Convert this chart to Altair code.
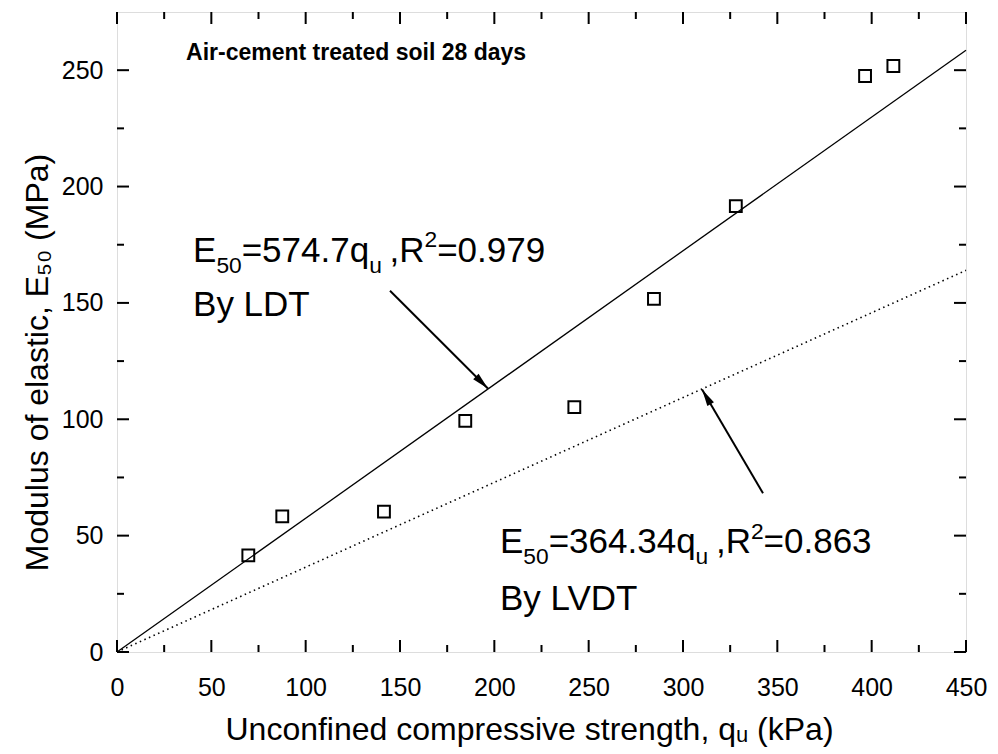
import math
import altair as alt
import pandas as pd

FONT = "Liberation Sans"

# ---- data ----
qu_kpa = [69.6, 87.6, 141.5, 184.6, 242.4, 284.6, 328.0, 396.5, 411.5]
e50_mpa = [41.5, 58.3, 60.3, 99.3, 105.2, 151.7, 191.6, 247.5, 251.8]

fit_x = [0, 450]
ldt_fit = [0, 258.6]     # E50 = 574.7 qu  (qu in MPa)
lvdt_fit = [0, 164.0]    # E50 = 364.34 qu

x_major = [0, 50, 100, 150, 200, 250, 300, 350, 400, 450]
x_minor = [25, 75, 125, 175, 225, 275, 325, 375, 425]
y_major = [0, 50, 100, 150, 200, 250]
y_minor = [25, 75, 125, 175, 225]

X_DOMAIN = [0, 450]
Y_DOMAIN = [0, 275]

# arrows: (tail x, tail y, head x, head y) in data units
arrow_ldt = [144.7, 155.2, 196.6, 113.2]
arrow_lvdt = [342.4, 68.2, 310.1, 112.8]

panel_title = "Air-cement treated soil 28 days"
x_title = "Unconfined compressive strength, q\u1d64 (kPa)"
y_title = "Modulus of elastic, E\u2085\u2080 (MPa)"

W, H = 849, 640
SX = W / (X_DOMAIN[1] - X_DOMAIN[0])
SY = H / (Y_DOMAIN[1] - Y_DOMAIN[0])

xs = alt.Scale(domain=X_DOMAIN, nice=False, zero=False)
ys = alt.Scale(domain=Y_DOMAIN, nice=False, zero=False)

xaxis = alt.Axis(values=x_major, ticks=False, domain=False, grid=False,
                 labelFontSize=25, labelPadding=23, labelFlush=False,
                 labelFont=FONT, labelColor="black",
                 title=x_title, titleFont=FONT, titleFontSize=32,
                 titleFontWeight="normal", titleColor="black",
                 titleX=412, titleY=87, titleBaseline="alphabetic", titleAlign="center")
yaxis = alt.Axis(values=y_major, ticks=False, domain=False, grid=False,
                 labelFontSize=25, labelPadding=14,
                 labelFont=FONT, labelColor="black",
                 title=y_title, titleFont=FONT, titleFontSize=32,
                 titleFontWeight="normal", titleColor="black",
                 titleX=-70, titleY=350, titleAngle=270, titleBaseline="alphabetic",
                 titleAlign="center")

pts = pd.DataFrame({"qu": qu_kpa, "e": e50_mpa})
base_pts = alt.Chart(pts).mark_point(shape="square", filled=False, size=140,
                                     strokeWidth=2, color="black", opacity=1).encode(
    x=alt.X("qu:Q", scale=xs, axis=xaxis),
    y=alt.Y("e:Q", scale=ys, axis=yaxis),
)

ldt = alt.Chart(pd.DataFrame({"x": fit_x, "y": ldt_fit})).mark_line(
    color="black", strokeWidth=1.3).encode(x=alt.X("x:Q", scale=xs), y=alt.Y("y:Q", scale=ys))
lvdt = alt.Chart(pd.DataFrame({"x": fit_x, "y": lvdt_fit})).mark_line(
    color="black", strokeWidth=1.6, strokeDash=[1.5, 3.5]).encode(
    x=alt.X("x:Q", scale=xs), y=alt.Y("y:Q", scale=ys))

# inward ticks on all four sides
def xticks(vals, length):
    df = pd.DataFrame({"v": vals})
    b = alt.Chart(df).mark_rule(color="black", strokeWidth=2)
    return [
        b.encode(x=alt.X("v:Q", scale=xs), y=alt.value(H), y2=alt.value(H - length)),
        b.encode(x=alt.X("v:Q", scale=xs), y=alt.value(0), y2=alt.value(length)),
    ]

def yticks(vals, length):
    df = pd.DataFrame({"v": vals})
    b = alt.Chart(df).mark_rule(color="black", strokeWidth=2)
    return [
        b.encode(y=alt.Y("v:Q", scale=ys), x=alt.value(0), x2=alt.value(length)),
        b.encode(y=alt.Y("v:Q", scale=ys), x=alt.value(W), x2=alt.value(W - length)),
    ]

tick_layers = xticks(x_major, 12) + xticks(x_minor, 7) + yticks(y_major, 12) + yticks(y_minor, 7)

# arrows
def arrow(a):
    tx, ty, hx, hy = a
    line = alt.Chart(pd.DataFrame({"x": [tx], "y": [ty], "x2": [hx], "y2": [hy]})).mark_rule(
        color="black", strokeWidth=2).encode(
        x=alt.X("x:Q", scale=xs), y=alt.Y("y:Q", scale=ys), x2="x2:Q", y2="y2:Q")
    dxp = (hx - tx) * SX
    dyp = -(hy - ty) * SY
    ang = math.degrees(math.atan2(dxp, -dyp)) % 360
    head = alt.Chart(pd.DataFrame({"x": [hx], "y": [hy]})).mark_point(
        shape="M0,0L-0.45,2L0.45,2Z", size=289, filled=True, color="black",
        opacity=1, angle=ang).encode(x=alt.X("x:Q", scale=xs), y=alt.Y("y:Q", scale=ys))
    return [line, head]

# rich text with sub/superscripts
WID = {'E': 667, '5': 556, '0': 556, '=': 584, '7': 556, '4': 556, '.': 278, 'q': 556,
       'u': 556, ',': 278, 'R': 722, '2': 556, '9': 556, '3': 556, '6': 556, '8': 556,
       ' ': 278, 'B': 667, 'y': 500, 'L': 556, 'D': 722, 'T': 611, 'V': 667}

def twidth(t, fs):
    return sum(WID.get(c, 556) for c in t) / 1000 * fs

SUBR = 0.65

def rich(x, y, parts, fs):
    layers = []
    off = 0.0
    for t, kind in parts:
        if kind == "gap":
            off += t * fs
            continue
        size = fs if kind == "n" else fs * SUBR
        dy = 0 if kind == "n" else (fs * 0.3 if kind == "sub" else -fs * 0.42)
        layers.append(alt.Chart(pd.DataFrame({"x": [x], "y": [y], "t": [t]})).mark_text(
            align="left", baseline="alphabetic", dx=off, dy=dy, fontSize=size,
            font=FONT, color="black").encode(
            x=alt.X("x:Q", scale=xs), y=alt.Y("y:Q", scale=ys), text="t:N"))
        off += twidth(t, size)
    return layers

FS = 35
ann = []
ann += rich(40.3, 167.5, [("E", "n"), ("50", "sub"), ("=574.7q", "n"), ("u", "sub"),
                          (0.22, "gap"), (",R", "n"), ("2", "sup"), ("=0.979", "n")], FS)
ann += rich(40.3, 144.5, [("By LDT", "n")], FS)
ann += rich(203.0, 42.4, [("E", "n"), ("50", "sub"), ("=364.34q", "n"), ("u", "sub"),
                          (0.22, "gap"), (",R", "n"), ("2", "sup"), ("=0.863", "n")], FS)
ann += rich(203.0, 18.0, [("By LVDT", "n")], FS)

title_layer = alt.Chart(pd.DataFrame({"x": [36.6], "y": [254.4], "t": [panel_title]})).mark_text(
    align="left", baseline="alphabetic", fontSize=23, fontWeight="bold", font=FONT,
    color="black").encode(x=alt.X("x:Q", scale=xs), y=alt.Y("y:Q", scale=ys), text="t:N")

chart = alt.layer(
    base_pts, ldt, lvdt, *tick_layers, *arrow(arrow_ldt), *arrow(arrow_lvdt), *ann, title_layer
).properties(
    width=W, height=H,
    padding={"left": 117, "top": 12, "right": 32, "bottom": 102},
    autosize=alt.AutoSizeParams(type="none"),
).configure_view(
    stroke="black", strokeWidth=2.5
).configure(background="white")

chart.save("out.html", embed_options={"renderer": "svg", "actions": False})
